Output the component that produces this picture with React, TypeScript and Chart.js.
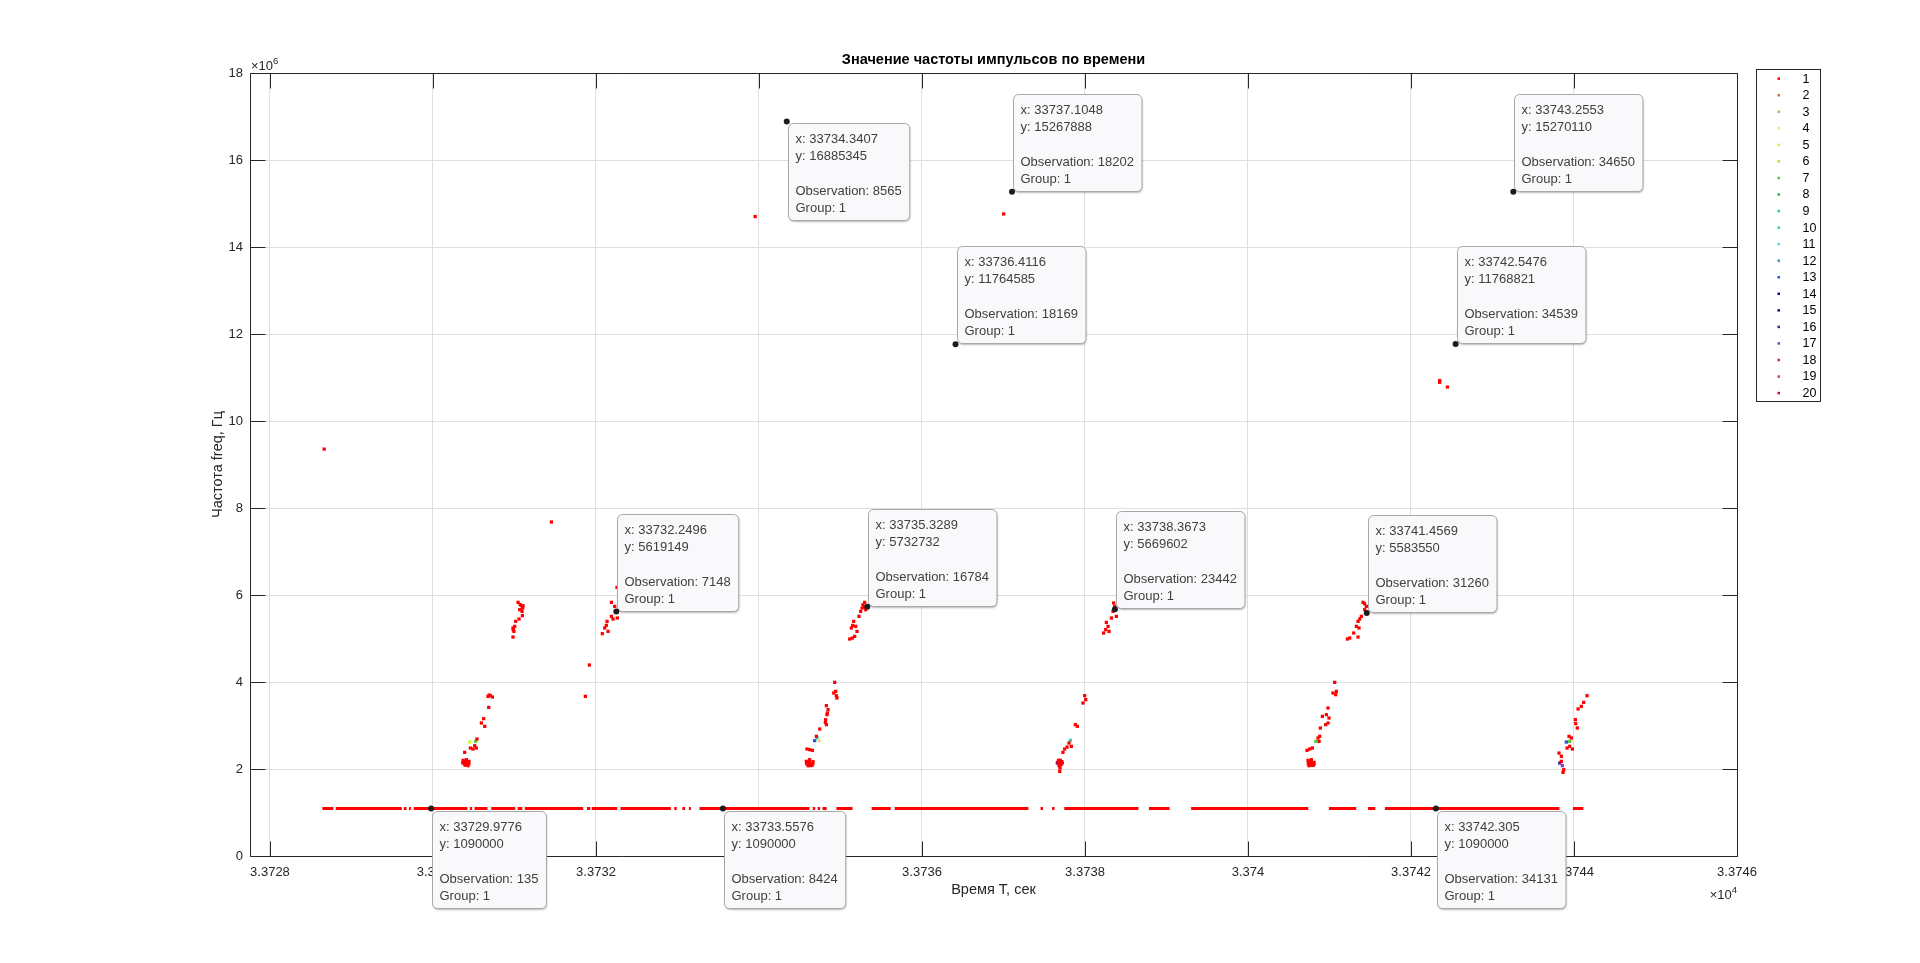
import React, { useEffect, useRef } from "react";
import { Chart, registerables } from "chart.js";

Chart.register(...registerables);

const FONT = '"Liberation Sans", Arial, Helvetica, sans-serif';
const AXIS_COLOR = "#262626";

// ---- axes ----
const xTicks = [33728, 33730, 33732, 33734, 33736, 33738, 33740, 33742, 33744, 33746];
const yTicksHz = [0, 2e6, 4e6, 6e6, 8e6, 10e6, 12e6, 14e6, 16e6, 18e6];
const xLimits = [33727.755, 33746];
const yLimits = [0, 18e6];

const chartTitle = "Значение частоты импульсов по времени";
const xAxisTitle = "Время T, сек";
const yAxisTitle = "Частота freq, Гц";

// ---- groups ----
const groupLabels = ["1", "2", "3", "4", "5", "6", "7", "8", "9", "10", "11", "12", "13", "14", "15", "16", "17", "18", "19", "20"];
const groupColors = [
  "#ff0000", "#e0663a", "#d9a05b", "#f3e07a", "#e3f03d",
  "#a3e03d", "#4fd12e", "#21bf4a", "#1fcf87", "#2ed1b0",
  "#4fe0e0", "#1f9fb3", "#2e4fd1", "#0a0ab3", "#14147a",
  "#4a1fa6", "#8a3db8", "#b3268a", "#d1337a", "#c20a3d",
];

// ---- baseline (group 1, f = 1 090 000 Hz), runs of samples [t start, t end] ----
const baselineHz = 1090000;
const baselineSegments: [number, number][] = [
  [33728.643, 33728.778], [33728.807, 33729.618], [33729.642, 33729.676], [33729.706, 33729.729],
  [33729.764, 33730.422], [33730.452, 33730.481], [33730.510, 33730.669], [33730.715, 33731.010],
  [33731.039, 33731.097], [33731.126, 33731.843], [33731.890, 33731.931], [33731.948, 33732.260],
  [33732.301, 33732.918], [33732.960, 33732.990], [33733.060, 33733.093], [33733.140, 33733.165],
  [33733.270, 33734.620], [33734.660, 33734.690], [33734.720, 33734.750], [33734.780, 33734.830],
  [33734.950, 33735.148], [33735.383, 33735.617], [33735.665, 33737.306], [33737.455, 33737.485],
  [33737.596, 33737.626], [33737.746, 33738.656], [33738.785, 33739.038], [33739.302, 33740.740],
  [33740.993, 33741.328], [33741.473, 33741.562], [33741.680, 33743.822], [33743.987, 33744.115],
];

// ---- group 1 scattered samples [t, f in MHz] ----
const group1Mhz: [number, number][] = [
  // outliers
  [33728.665, 9.354], [33731.453, 7.678], [33731.870, 3.670], [33731.919, 4.391],
  [33733.953, 14.70], [33737.002, 14.76], [33742.352, 10.93], [33742.352, 10.89], [33742.447, 10.78],
  [33734.3407, 16.885], [33737.1048, 15.268], [33743.2553, 15.270], [33736.4116, 11.765], [33742.5476, 11.769],
  // cluster A
  [33730.369, 2.199], [33730.410, 2.214], [33730.442, 2.176], [33730.389, 2.099], [33730.430, 2.076],
  [33730.401, 2.153], [33730.420, 2.130], [33730.380, 2.170], [33730.365, 2.140], [33730.440, 2.120],
  [33730.400, 2.090], [33730.405, 2.190], [33730.389, 2.383], [33730.459, 2.482],
  [33730.491, 2.459], [33730.532, 2.482], [33730.512, 2.536], [33730.540, 2.689], [33730.594, 3.057],
  [33730.635, 2.981], [33730.622, 3.157], [33730.684, 3.417], [33730.675, 3.670], [33730.704, 3.685],
  [33730.729, 3.655], [33730.690, 3.700], [33730.982, 5.241], [33730.994, 5.164], [33731.003, 5.279],
  [33731.015, 5.394], [33731.056, 5.448], [33731.064, 5.662], [33731.084, 5.754], [33731.105, 5.754],
  [33731.044, 5.831], [33731.097, 5.525], [33731.093, 5.624], [33730.982, 5.034], [33731.100, 5.700],
  [33730.985, 5.200], [33731.070, 5.780],
  // cluster B
  [33732.078, 5.111], [33732.107, 5.241], [33732.127, 5.302], [33732.148, 5.164], [33732.136, 5.394],
  [33732.189, 5.509], [33732.209, 5.448], [33732.189, 5.831], [33732.262, 5.471], [33732.258, 6.176],
  [33732.230, 5.739],
  // cluster C
  [33734.581, 2.176], [33734.622, 2.214], [33734.663, 2.168], [33734.602, 2.076], [33734.651, 2.084],
  [33734.622, 2.138], [33734.640, 2.110], [33734.600, 2.150], [33734.585, 2.120], [33734.660, 2.120],
  [33734.625, 2.080], [33734.620, 2.190], [33734.589, 2.459], [33734.622, 2.444],
  [33734.655, 2.429], [33734.704, 2.751], [33734.745, 2.919], [33734.827, 3.019], [33734.818, 3.134],
  [33734.835, 3.249], [33734.847, 3.364], [33734.827, 3.456], [33734.839, 3.287], [33734.814, 3.072],
  [33734.929, 3.992], [33734.917, 3.747], [33734.949, 3.685], [33734.941, 3.785], [33734.957, 3.632],
  [33735.113, 4.988], [33735.146, 5.011], [33735.174, 5.049], [33735.133, 5.241], [33735.187, 5.279],
  [33735.203, 5.164], [33735.162, 5.394], [33735.227, 5.509], [33735.248, 5.624], [33735.276, 5.777],
  [33735.297, 5.831], [33735.309, 5.662], [33735.290, 5.720], [33735.150, 5.300], [33735.265, 5.700],
  // cluster D
  [33737.669, 2.153], [33737.698, 2.199], [33737.722, 2.138], [33737.681, 2.076], [33737.690, 1.946],
  [33737.694, 2.023], [33737.705, 2.100], [33737.675, 2.200], [33737.715, 2.170], [33737.700, 2.120],
  [33737.751, 2.459], [33737.780, 2.505], [33737.730, 2.383],
  [33737.804, 2.597], [33737.833, 2.521], [33737.882, 3.019], [33737.906, 2.981], [33737.996, 3.685],
  [33738.009, 3.594], [33737.976, 3.517], [33738.229, 5.126], [33738.254, 5.203], [33738.283, 5.279],
  [33738.262, 5.371], [33738.295, 5.164], [33738.324, 5.471], [33738.344, 5.624], [33738.364, 5.739],
  [33738.385, 5.509], [33738.352, 5.816],
  // cluster E
  [33740.737, 2.199], [33740.778, 2.214], [33740.810, 2.153], [33740.749, 2.076], [33740.798, 2.084],
  [33740.765, 2.138], [33740.785, 2.120], [33740.750, 2.170], [33740.740, 2.120], [33740.810, 2.110],
  [33740.770, 2.085], [33740.775, 2.185], [33740.724, 2.429], [33740.757, 2.459],
  [33740.790, 2.482], [33740.859, 2.712], [33740.880, 2.751], [33740.872, 2.636], [33740.888, 2.942],
  [33740.913, 3.210], [33740.962, 3.249], [33740.982, 3.057], [33740.982, 3.402], [33740.994, 3.172],
  [33740.953, 3.019], [33741.043, 3.747], [33741.076, 3.708], [33741.064, 3.992], [33741.084, 3.785],
  [33741.219, 4.988], [33741.248, 5.011], [33741.297, 5.126], [33741.350, 5.034], [33741.330, 5.279],
  [33741.362, 5.241], [33741.350, 5.394], [33741.371, 5.448], [33741.391, 5.509], [33741.432, 5.662],
  [33741.452, 5.739], [33741.411, 5.831], [33741.430, 5.800],
  // cluster F
  [33743.845, 2.176], [33743.874, 1.984], [33743.865, 1.923], [33743.816, 2.367], [33743.845, 2.291],
  [33743.915, 2.482], [33743.947, 2.521], [33743.980, 2.459], [33743.939, 2.751], [33743.968, 2.712],
  [33744.021, 3.042], [33744.041, 2.942], [33744.017, 3.134], [33744.050, 3.379], [33744.090, 3.440],
  [33744.119, 3.532], [33744.160, 3.685],
];

// ---- other groups [group, t, f in MHz] ----
const otherGroupMhz: [number, number, number][] = [
  [5, 33730.450, 2.620], [7, 33730.524, 2.636],
  [13, 33734.683, 2.651], [10, 33734.712, 2.712], [4, 33734.737, 2.651],
  [14, 33737.661, 2.138], [10, 33737.820, 2.659],
  [7, 33740.831, 2.636],
  [16, 33743.825, 2.138], [17, 33743.857, 2.076], [13, 33743.906, 2.620], [7, 33743.947, 2.636],
];

// ---- data tips ----
type Tip = { x: number; y: number; obs: number; group: number; side: "ne" | "se" };
const datatips: Tip[] = [
  { x: 33734.3407, y: 16885345, obs: 8565, group: 1, side: "se" },
  { x: 33737.1048, y: 15267888, obs: 18202, group: 1, side: "ne" },
  { x: 33743.2553, y: 15270110, obs: 34650, group: 1, side: "ne" },
  { x: 33736.4116, y: 11764585, obs: 18169, group: 1, side: "ne" },
  { x: 33742.5476, y: 11768821, obs: 34539, group: 1, side: "ne" },
  { x: 33732.2496, y: 5619149, obs: 7148, group: 1, side: "ne" },
  { x: 33735.3289, y: 5732732, obs: 16784, group: 1, side: "ne" },
  { x: 33738.3673, y: 5669602, obs: 23442, group: 1, side: "ne" },
  { x: 33741.4569, y: 5583550, obs: 31260, group: 1, side: "ne" },
  { x: 33729.9776, y: 1090000, obs: 135, group: 1, side: "se" },
  { x: 33733.5576, y: 1090000, obs: 8424, group: 1, side: "se" },
  { x: 33742.305, y: 1090000, obs: 34131, group: 1, side: "se" },
];

const fmtX = (v: number) => String(parseFloat(v.toFixed(4)));

function roundRect(ctx: CanvasRenderingContext2D, x: number, y: number, w: number, h: number, r: number) {
  ctx.beginPath();
  ctx.moveTo(x + r, y);
  ctx.lineTo(x + w - r, y);
  ctx.arcTo(x + w, y, x + w, y + r, r);
  ctx.lineTo(x + w, y + h - r);
  ctx.arcTo(x + w, y + h, x + w - r, y + h, r);
  ctx.lineTo(x + r, y + h);
  ctx.arcTo(x, y + h, x, y + h - r, r);
  ctx.lineTo(x, y + r);
  ctx.arcTo(x, y, x + r, y, r);
  ctx.closePath();
}

const decorPlugin = {
  id: "matlabDecor",
  afterDatasetsDraw(chart: any) {
    const { ctx, chartArea: a, scales } = chart;
    const L = Math.round(a.left) + 0.5, R = Math.round(a.right) + 0.5;
    const T = Math.round(a.top) + 0.5, B = Math.round(a.bottom) + 0.5;
    ctx.save();
    ctx.strokeStyle = AXIS_COLOR;
    ctx.lineWidth = 1;
    ctx.beginPath();
    ctx.rect(L, T, R - L, B - T);
    const tl = 15;
    xTicks.forEach((v) => {
      const px = Math.round(scales.x.getPixelForValue(v)) + 0.5;
      ctx.moveTo(px, B); ctx.lineTo(px, B - tl);
      ctx.moveTo(px, T); ctx.lineTo(px, T + tl);
    });
    yTicksHz.forEach((v) => {
      const py = Math.round(scales.y.getPixelForValue(v)) + 0.5;
      ctx.moveTo(L, py); ctx.lineTo(L + tl, py);
      ctx.moveTo(R, py); ctx.lineTo(R - tl, py);
    });
    ctx.stroke();
    ctx.restore();
  },
  afterDraw(chart: any) {
    const { ctx, chartArea: a, scales } = chart;
    ctx.save();

    // title
    ctx.fillStyle = "#000";
    ctx.font = `bold 14.5px ${FONT}`;
    ctx.textAlign = "center";
    ctx.textBaseline = "middle";
    ctx.fillText(chartTitle, (a.left + a.right) / 2, 59.5);

    // axis titles
    ctx.fillStyle = AXIS_COLOR;
    ctx.font = `14.5px ${FONT}`;
    ctx.fillText(xAxisTitle, (a.left + a.right) / 2, 890);
    ctx.save();
    ctx.translate(218, (a.top + a.bottom) / 2);
    ctx.rotate(-Math.PI / 2);
    ctx.fillText(yAxisTitle, 0, 0);
    ctx.restore();

    // exponent labels
    ctx.textBaseline = "alphabetic";
    ctx.textAlign = "left";
    ctx.font = `13px ${FONT}`;
    ctx.fillText("×10", a.left + 1, 69.5);
    let w = ctx.measureText("×10").width;
    ctx.font = `9.5px ${FONT}`;
    ctx.fillText("6", a.left + 1 + w, 63.5);
    const w4 = ctx.measureText("4").width;
    ctx.font = `13px ${FONT}`;
    w = ctx.measureText("×10").width;
    ctx.fillText("×10", a.right - w4 - w, 899);
    ctx.font = `9.5px ${FONT}`;
    ctx.fillText("4", a.right - w4, 893);

    // data tips
    datatips.forEach((t) => {
      const px = scales.x.getPixelForValue(t.x);
      const py = scales.y.getPixelForValue(t.y);
      ctx.font = `13px ${FONT}`;
      const lines = [`x: ${fmtX(t.x)}`, `y: ${t.y}`, "", `Observation: ${t.obs}`, `Group: ${t.group}`];
      const bw = Math.max(...lines.map((l) => ctx.measureText(l).width)) + 15;
      const bh = 97;
      const bx = Math.round(px + 1) + 0.5;
      const by = Math.round(t.side === "ne" ? py - 1 - bh : py + 2) + 0.5;
      ctx.save();
      ctx.shadowColor = "rgba(0,0,0,0.28)";
      ctx.shadowOffsetY = 1.5;
      ctx.shadowOffsetX = 0.5;
      ctx.shadowBlur = 2;
      roundRect(ctx, bx, by, bw, bh, 5);
      ctx.fillStyle = "#f9f9fc";
      ctx.fill();
      ctx.restore();
      roundRect(ctx, bx, by, bw, bh, 5);
      ctx.strokeStyle = "#a8a8a8";
      ctx.lineWidth = 1;
      ctx.stroke();
      ctx.fillStyle = "#404040";
      ctx.textAlign = "left";
      ctx.textBaseline = "middle";
      lines.forEach((l, i) => {
        if (l) ctx.fillText(l, bx + 7, by + 16 + i * 17.3);
      });
      ctx.beginPath();
      ctx.arc(px, py, 3, 0, Math.PI * 2);
      ctx.fillStyle = "#1c1c1c";
      ctx.fill();
    });

    // legend
    const lx = Math.round(a.right) + 19.5, ly = 69.5, lw = 64, lh = 332;
    ctx.fillStyle = "#fff";
    ctx.fillRect(lx, ly, lw, lh);
    ctx.strokeStyle = AXIS_COLOR;
    ctx.lineWidth = 1;
    ctx.strokeRect(lx, ly, lw, lh);
    ctx.font = `12.5px ${FONT}`;
    ctx.textAlign = "left";
    ctx.textBaseline = "middle";
    groupLabels.forEach((lab, i) => {
      const yy = 78.6 + i * 16.55;
      ctx.fillStyle = groupColors[i];
      ctx.fillRect(lx + 21, yy - 1.2, 2.5, 2.5);
      ctx.fillStyle = "#000";
      ctx.fillText(lab, lx + 46, yy + 0.5);
    });

    ctx.restore();
  },
};

export default function App() {
  const ref = useRef<HTMLCanvasElement | null>(null);

  useEffect(() => {
    document.body.style.margin = "0";
    const canvas = ref.current;
    if (!canvas) return;

    const baselineData: any[] = [];
    baselineSegments.forEach(([s, e]) => {
      baselineData.push({ x: s, y: baselineHz }, { x: e, y: baselineHz }, { x: e, y: null });
    });

    const datasets: any[] = [
      {
        label: "baseline",
        data: baselineData,
        showLine: true,
        spanGaps: false,
        borderColor: groupColors[0],
        borderWidth: 3,
        borderCapStyle: "butt",
        pointRadius: 0,
        pointHoverRadius: 0,
      },
    ];
    groupLabels.forEach((lab, i) => {
      const g = i + 1;
      const pts =
        g === 1
          ? group1Mhz.map(([x, m]) => ({ x, y: m * 1e6 }))
          : otherGroupMhz.filter((p) => p[0] === g).map(([, x, m]) => ({ x, y: m * 1e6 }));
      datasets.push({
        label: lab,
        data: pts,
        showLine: false,
        pointStyle: "rect",
        pointRadius: 2.3,
        pointHoverRadius: 2.3,
        pointBorderWidth: 0,
        backgroundColor: groupColors[i],
        borderColor: groupColors[i],
      });
    });

    const chart = new Chart(canvas, {
      type: "scatter",
      data: { datasets },
      plugins: [decorPlugin],
      options: {
        animation: false,
        responsive: false,
        events: [],
        layout: { padding: { left: 0, top: 73, right: 183, bottom: 0 } },
        plugins: { legend: { display: false }, tooltip: { enabled: false }, title: { display: false } },
        scales: {
          x: {
            type: "linear",
            min: xLimits[0],
            max: xLimits[1],
            afterFit: (s: any) => { s.height = 107; },
            afterBuildTicks: (s: any) => { s.ticks = xTicks.map((v) => ({ value: v })); },
            grid: { color: "#dfdfdf", drawTicks: false, lineWidth: 1 },
            border: { display: false },
            ticks: {
              color: AXIS_COLOR,
              font: { family: FONT, size: 13 },
              padding: 9,
              maxRotation: 0,
              autoSkip: false,
              callback: (v: any) => String(parseFloat((Number(v) / 1e4).toFixed(5))),
            },
          },
          y: {
            type: "linear",
            min: yLimits[0],
            max: yLimits[1],
            afterFit: (s: any) => { s.width = 250; },
            afterBuildTicks: (s: any) => { s.ticks = yTicksHz.map((v) => ({ value: v })); },
            grid: { color: "#dfdfdf", drawTicks: false, lineWidth: 1 },
            border: { display: false },
            ticks: {
              color: AXIS_COLOR,
              font: { family: FONT, size: 13 },
              padding: 7,
              autoSkip: false,
              callback: (v: any) => String(Number(v) / 1e6),
            },
          },
        },
      } as any,
    });

    return () => chart.destroy();
  }, []);

  return (
    <div style={{ position: "absolute", left: 0, top: 0, width: 1920, height: 963, background: "#fff" }}>
      <canvas ref={ref} width={1920} height={963} style={{ display: "block", width: 1920, height: 963 }} />
    </div>
  );
}
